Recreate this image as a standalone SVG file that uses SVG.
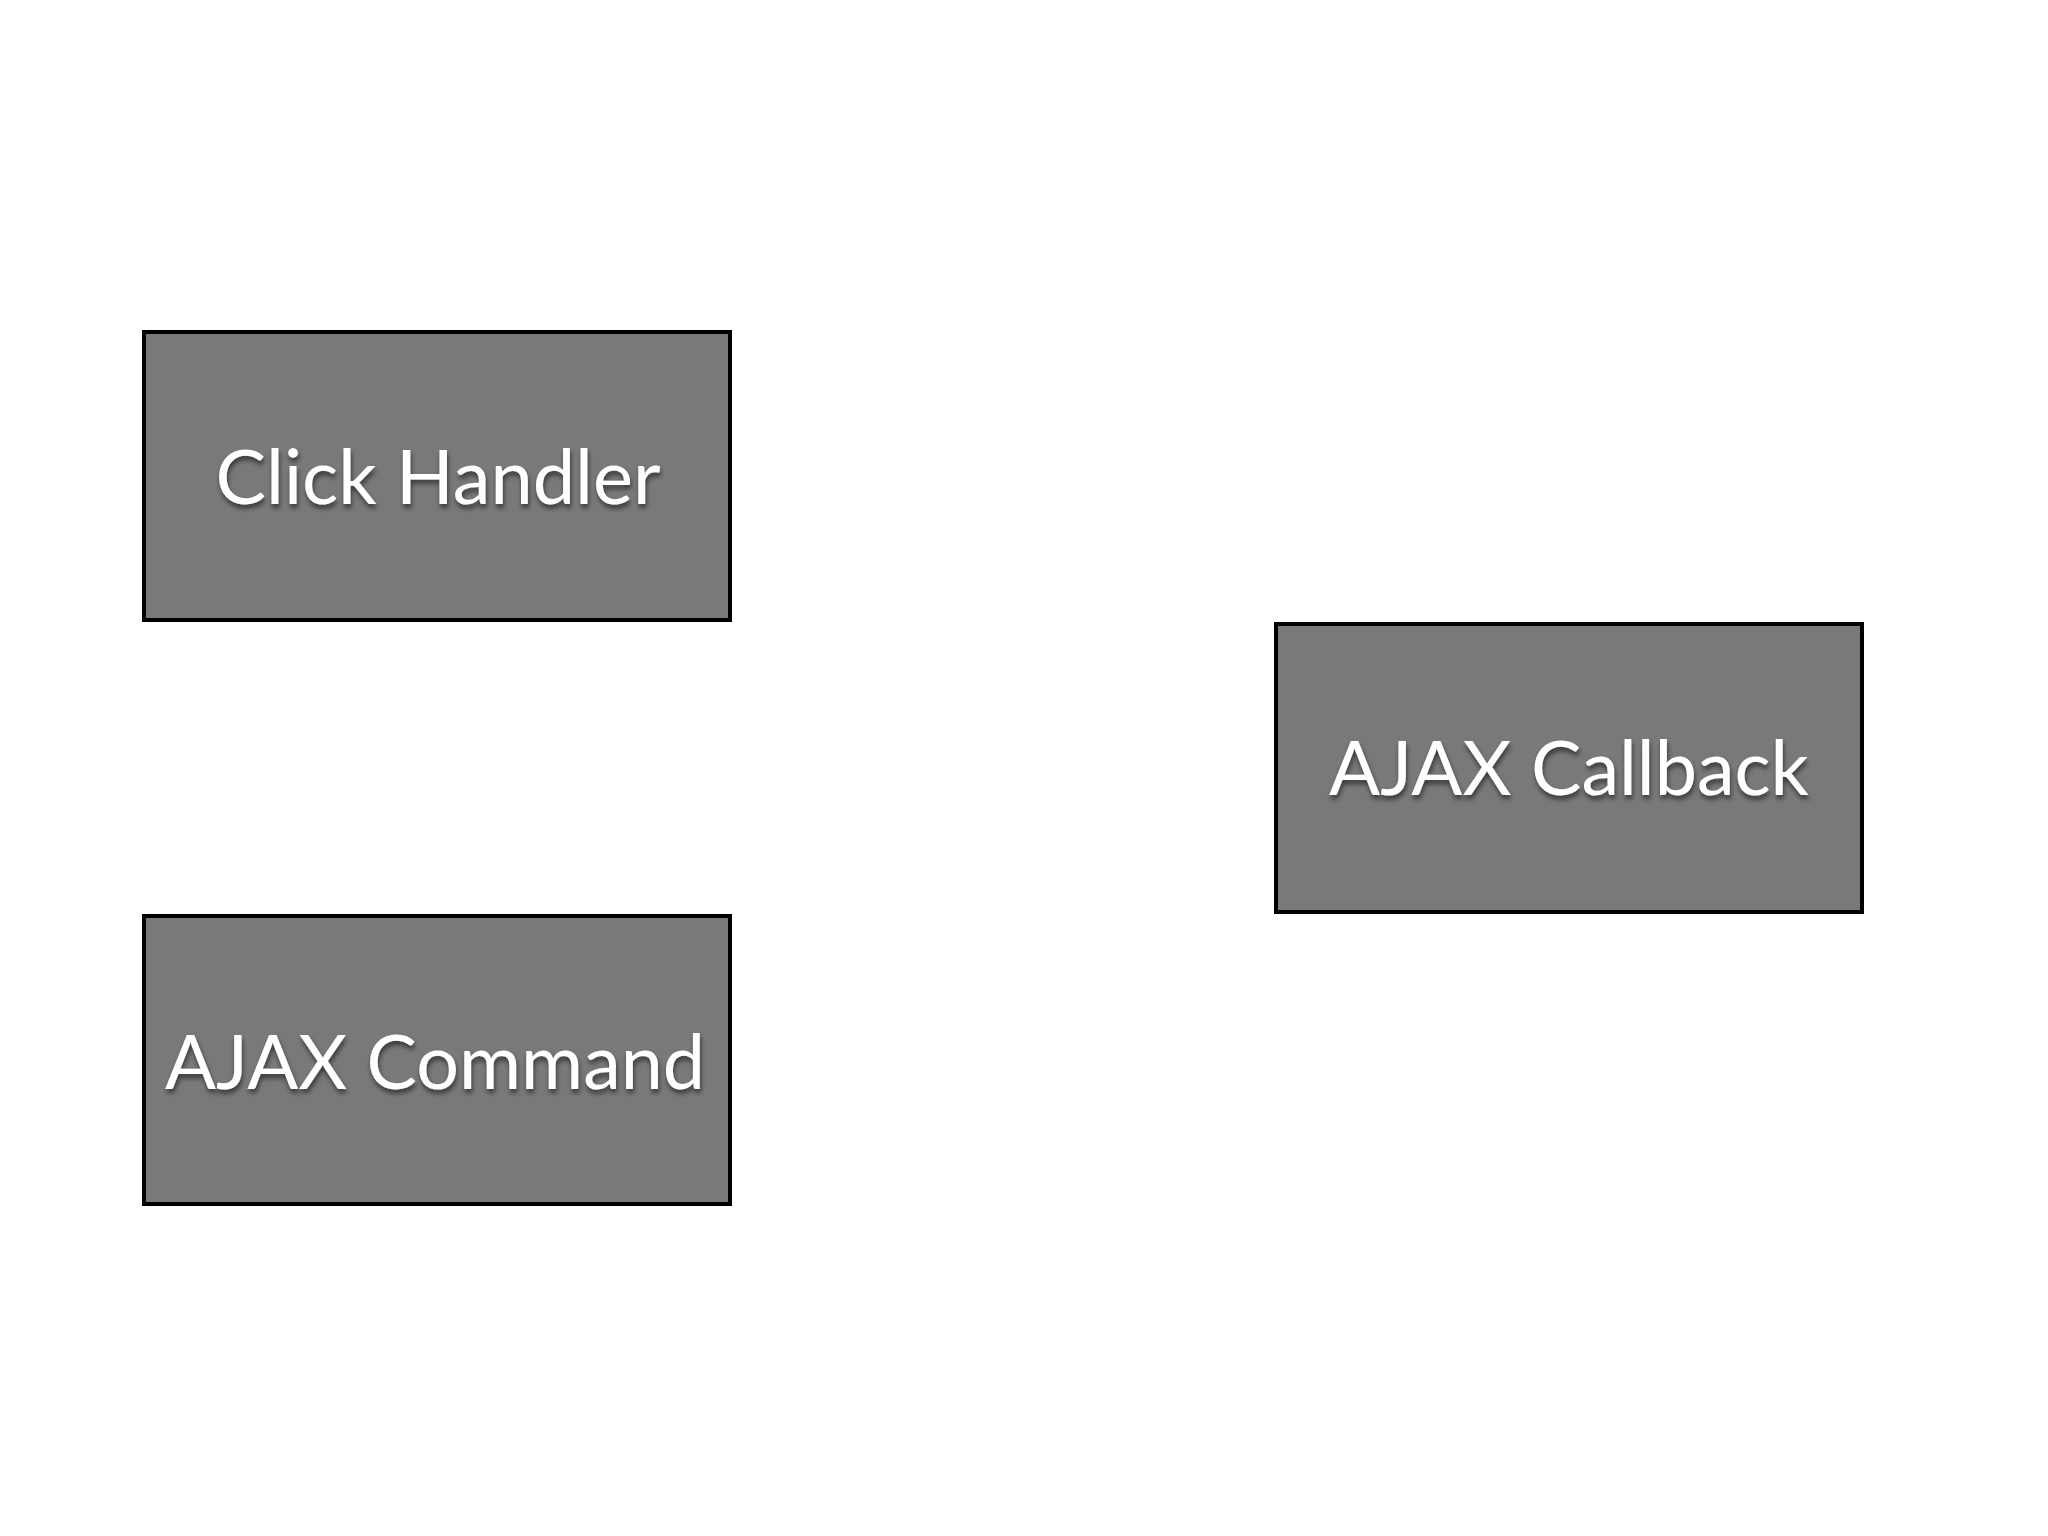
<svg xmlns="http://www.w3.org/2000/svg" width="2048" height="1536" viewBox="0 0 2048 1536">
  <defs>
    <filter id="shadow" x="-10%" y="-30%" width="120%" height="160%">
      <feDropShadow dx="1" dy="4" stdDeviation="2.5" flood-color="#000000" flood-opacity="0.55"/>
    </filter>
    <style>
      .box { fill: #797979; stroke: #000000; stroke-width: 4; }
      .label { font-family: Lato, "Open Sans", "Liberation Sans", sans-serif; font-size: 75px; fill: #ffffff; text-anchor: middle; filter: url(#shadow); }
    </style>
  </defs>
  <rect x="0" y="0" width="2048" height="1536" fill="#ffffff"/>
  <g id="connectors"></g>
  <g id="node-click-handler">
    <rect class="box" x="144" y="332" width="586" height="288"/>
    <text class="label" x="438" y="504" textLength="445" lengthAdjust="spacingAndGlyphs">Click Handler</text>
  </g>
  <g id="node-ajax-command">
    <rect class="box" x="144" y="916" width="586" height="288"/>
    <text class="label" x="435" y="1089" textLength="540" lengthAdjust="spacingAndGlyphs">AJAX Command</text>
  </g>
  <g id="node-ajax-callback">
    <rect class="box" x="1276" y="624" width="586" height="288"/>
    <text class="label" x="1569" y="795" textLength="480" lengthAdjust="spacingAndGlyphs">AJAX Callback</text>
  </g>
</svg>
